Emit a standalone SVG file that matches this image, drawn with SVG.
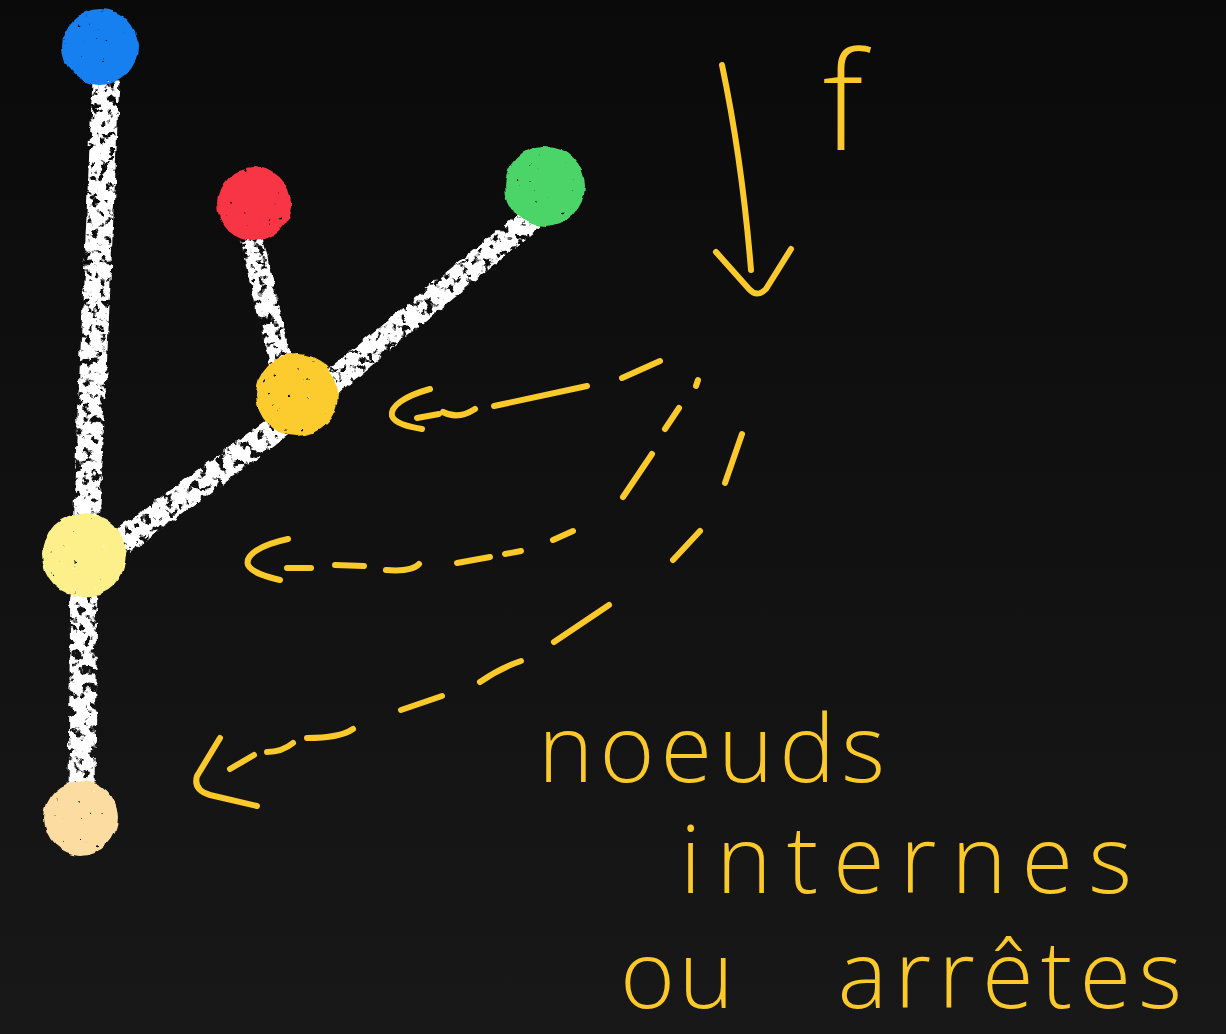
<svg xmlns="http://www.w3.org/2000/svg" width="1226" height="1034" viewBox="0 0 1226 1034">
  <defs>
    <linearGradient id="bg" x1="0" y1="0" x2="0" y2="1">
      <stop offset="0" stop-color="#0a0a0a"/>
      <stop offset="1" stop-color="#181818"/>
    </linearGradient>
    <!-- chalk texture: speckled holes plus a slightly torn outline -->
    <filter id="chalk" filterUnits="userSpaceOnUse" x="0" y="0" width="1226" height="1034">
      <feTurbulence type="fractalNoise" baseFrequency="0.12" numOctaves="3" seed="7" result="noise"/>
      <feColorMatrix in="noise" type="matrix" values="0 0 0 0 0  0 0 0 0 0  0 0 0 0 0  -12 0 0 0 7.8" result="holes"/>
      <feComposite in="SourceGraphic" in2="holes" operator="in" result="tex"/>
      <feTurbulence type="fractalNoise" baseFrequency="0.1" numOctaves="2" seed="2" result="warp"/>
      <feDisplacementMap in="tex" in2="warp" scale="7" xChannelSelector="R" yChannelSelector="G"/>
    </filter>
    <filter id="rough" filterUnits="userSpaceOnUse" x="0" y="0" width="1226" height="1034">
      <feTurbulence type="fractalNoise" baseFrequency="0.18" numOctaves="2" seed="4" result="n1"/>
      <feColorMatrix in="n1" type="matrix" values="0 0 0 0 0  0 0 0 0 0  0 0 0 0 0  -14 0 0 0 11.6" result="pits"/>
      <feComposite in="SourceGraphic" in2="pits" operator="in" result="tex"/>
      <feTurbulence type="fractalNoise" baseFrequency="0.06" numOctaves="2" seed="9" result="n2"/>
      <feDisplacementMap in="tex" in2="n2" scale="6" xChannelSelector="R" yChannelSelector="G"/>
    </filter>
  </defs>
  <style>
    .edge { stroke: #ffffff; stroke-linecap: butt; fill: none; }
    .ink { stroke: #fcc92b; stroke-width: 6; stroke-linecap: round; stroke-linejoin: round; fill: none; }
    .hand { fill: #fcc92b; font-family: 'Open Sans', 'Liberation Sans', sans-serif; font-weight: 300; }
  </style>

  <rect width="1226" height="1034" fill="url(#bg)"/>

  <!-- tree edges drawn in chalk -->
  <g id="connectors" filter="url(#chalk)">
    <line class="edge" x1="106" y1="80" x2="86" y2="530" stroke-width="27"/>
    <line class="edge" x1="84" y1="560" x2="82" y2="800" stroke-width="27"/>
    <line class="edge" x1="251" y1="238" x2="283" y2="370" stroke-width="23"/>
    <line class="edge" x1="532" y1="218" x2="310" y2="400" stroke-width="25"/>
    <line class="edge" x1="295" y1="415" x2="100" y2="558" stroke-width="26"/>
  </g>

  <!-- tree nodes -->
  <g id="node-blue" filter="url(#rough)"><circle cx="100" cy="47" r="38" fill="#1280f0"/></g>
  <g id="node-red" filter="url(#rough)"><circle cx="254" cy="204" r="37" fill="#f83445"/></g>
  <g id="node-green" filter="url(#rough)"><circle cx="545" cy="186" r="40" fill="#4cd468"/></g>
  <g id="node-gold" filter="url(#rough)"><circle cx="297" cy="395" r="41" fill="#fccc2e"/></g>
  <g id="node-lightyellow" filter="url(#rough)"><circle cx="84" cy="555" r="42" fill="#fdf08b"/></g>
  <g id="node-peach" filter="url(#rough)"><circle cx="81" cy="818" r="37" fill="#fcdca0"/></g>

  <!-- the map f, pointing downward -->
  <g id="map-f">
    <path class="ink" d="M722,65 Q742,160 751,270"/>
    <path class="ink" d="M716,252 L749,289 Q757,298 766,289 L791,249"/>
    <text class="hand" x="843" y="150" font-size="136" text-anchor="middle">f</text>
  </g>

  <!-- dashed pointers to the internal nodes -->
  <g id="pointers">
    <!-- to the gold node -->
    <path class="ink" d="M430,389 C405,396 390,406 392,416 C395,424 410,427 422,429"/>
    <path class="ink" d="M417,418 L439,414 M443,412 Q458,420 475,409 M494,406 L587,386 M622,378 L660,361 M698,380 L696,386"/>
    <!-- to the light yellow node -->
    <path class="ink" d="M679,408 L665,429 M652,454 L623,497 M573,531 L553,540 M521,551 L505,554 M490,557 L457,563 M419,564 Q412,572 386,570 M364,566 L335,565 M311,568 L287,568"/>
    <path class="ink" d="M288,539 C260,545 245,555 248,565 C252,573 268,577 280,580"/>
    <!-- to the peach node -->
    <path class="ink" d="M742,434 L725,483 M700,531 L673,560 M609,605 L554,642 M521,661 Q500,668 480,682 M442,696 L401,710 M353,729 Q340,738 307,738 M293,743 Q282,752 267,752 M254,755 L230,769"/>
    <path class="ink" d="M220,738 L197,776 Q193,790 210,795 L257,806"/>
  </g>

  <!-- caption -->
  <g id="caption">
    <text class="hand" x="538" y="782" font-size="94" textLength="347" lengthAdjust="spacing">noeuds</text>
    <text class="hand" x="680" y="893" font-size="94" textLength="452" lengthAdjust="spacing">internes</text>
    <text class="hand" y="1008" font-size="94"><tspan x="620" textLength="114" lengthAdjust="spacing">ou</tspan><tspan x="806" textLength="376" lengthAdjust="spacing"> arrêtes</tspan></text>
  </g>
</svg>
